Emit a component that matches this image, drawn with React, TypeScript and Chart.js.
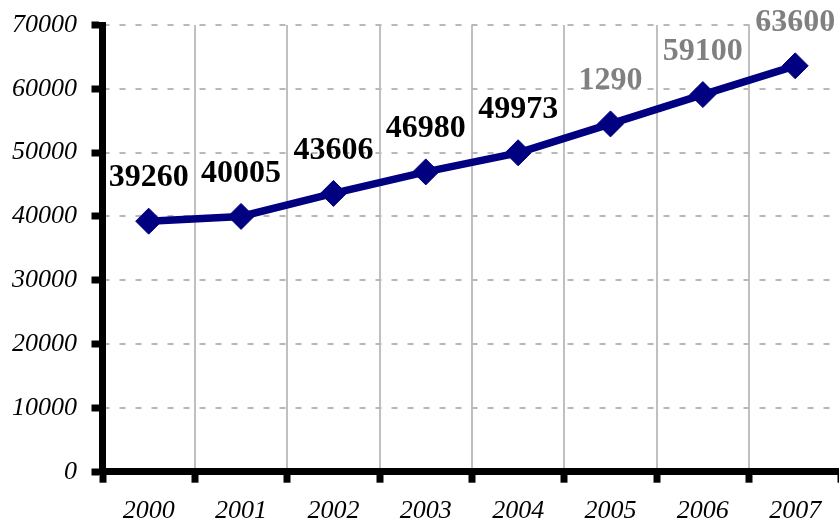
import React, { useEffect, useRef } from "react";
import { Chart, registerables } from "chart.js";

Chart.register(...registerables);

const years = ["2000", "2001", "2002", "2003", "2004", "2005", "2006", "2007"];
const values = [39260, 40005, 43606, 46980, 49973, 54500, 59100, 63600];
const pointLabels = ["39260", "40005", "43606", "46980", "49973", "1290", "59100", "63600"];
const labelColors = ["#000000", "#000000", "#000000", "#000000", "#000000", "#808080", "#808080", "#808080"];

const SERIF = "'Liberation Serif', 'Times New Roman', serif";

const dataLabelPlugin = {
  id: "dataLabels",
  afterDatasetsDraw(chart: any) {
    const ctx = chart.ctx;
    const meta = chart.getDatasetMeta(0);
    ctx.save();
    ctx.font = `bold 32px ${SERIF}`;
    ctx.textAlign = "center";
    ctx.textBaseline = "middle";
    meta.data.forEach((pt: any, i: number) => {
      ctx.fillStyle = labelColors[i];
      ctx.fillText(pointLabels[i], pt.x, pt.y - 43);
    });
    ctx.restore();
  },
};

export default function App() {
  const ref = useRef<HTMLCanvasElement | null>(null);
  useEffect(() => {
    if (!ref.current) return;
    const chart = new Chart(ref.current, {
      type: "line",
      data: {
        labels: years,
        datasets: [
          {
            data: values,
            borderColor: "#000080",
            backgroundColor: "#000080",
            borderWidth: 7.5,
            tension: 0,
            pointStyle: "rectRot",
            pointRadius: 13,
            pointBorderWidth: 1,
            pointBorderColor: "#000080",
            pointBackgroundColor: "#000080",
          },
        ],
      },
      options: {
        animation: false,
        responsive: false,
        maintainAspectRatio: false,
        layout: { autoPadding: false, padding: { top: 25, left: 0, right: 0.6, bottom: 0 } },
        plugins: { legend: { display: false }, tooltip: { enabled: false } },
        scales: {
          x: {
            offset: true,
            grid: {
              offset: true,
              color: "#c0c0c0",
              lineWidth: 2,
              tickColor: "#000000",
              tickWidth: 7,
              tickLength: 11,
            },
            border: { color: "#000000", width: 7 },
            ticks: {
              color: "#000000",
              padding: 12.7,
              maxRotation: 0,
              font: { family: SERIF, size: 26, style: "italic" },
            },
            afterFit(scale: any) {
              scale.height = 54.3;
              scale.paddingLeft = 0;
              scale.paddingRight = 0;
            },
          },
          y: {
            min: 0,
            max: 70000,
            grid: {
              color: "#b8b8b8",
              lineWidth: 2,
              tickColor: "#000000",
              tickWidth: 7,
              tickLength: 11,
            },
            border: { color: "#000000", width: 7, dash: [6, 10], dashOffset: 2.5 },
            ticks: {
              stepSize: 10000,
              color: "#000000",
              padding: 14.5,
              font: { family: SERIF, size: 26, style: "italic" },
              callback: (v: any) => String(v),
            },
            afterFit(scale: any) {
              scale.width = 102.5;
              scale.paddingTop = 0;
              scale.paddingBottom = 0;
            },
          },
        },
      },
      plugins: [dataLabelPlugin],
    });
    return () => chart.destroy();
  }, []);
  return (
    <div
      style={{
        position: "fixed",
        left: 0,
        top: 0,
        width: 839,
        height: 526,
        overflow: "hidden",
        background: "#ffffff",
      }}
    >
      <canvas ref={ref} width={842} height={526} style={{ width: 842, height: 526, display: "block" }} />
    </div>
  );
}
